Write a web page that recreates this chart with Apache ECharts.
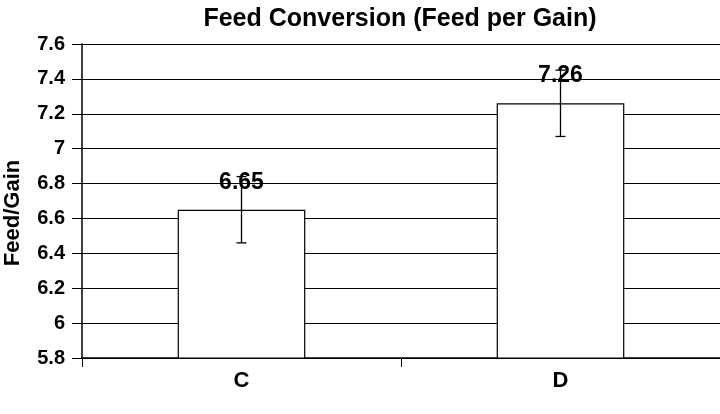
<!DOCTYPE html>
<html>
<head>
<meta charset="utf-8">
<script src="https://cdn.jsdelivr.net/npm/echarts@6/dist/echarts.min.js"></script>
<style>html,body{margin:0;padding:0;background:#fff}#c{width:720px;height:414px}</style>
</head>
<body>
<div id="c"></div>
<script>
var categories = ['C', 'D'];
var values = [6.65, 7.26];
var errLow = [6.46, 7.07];
var errHigh = [6.84, 7.45];
var yTicks = [5.8, 6, 6.2, 6.4, 6.6, 6.8, 7, 7.2, 7.4, 7.6];

var chart = echarts.init(document.getElementById('c'));
var font = 'Liberation Sans, Arial, sans-serif';
chart.setOption({
  animation: false,
  backgroundColor: '#fff',
  title: {
    text: 'Feed Conversion (Feed per Gain)',
    left: 395, top: 2, textAlign: 'center',
    textStyle: {fontFamily: font, fontWeight: 'bold', fontSize: 25, color: '#000'}
  },
  grid: {left: 82, right: 0, top: 44, bottom: 56, containLabel: false, outerBoundsMode: 'none'},
  xAxis: {
    type: 'category', data: categories, boundaryGap: true,
    axisLine: {lineStyle: {color: '#000', width: 1.5}},
    axisTick: {show: true, length: 9, lineStyle: {color: '#000'}, alignWithLabel: false},
    axisLabel: {fontFamily: font, fontWeight: 'bold', fontSize: 22, color: '#000', margin: 12}
  },
  yAxis: {
    type: 'value', min: 5.8, max: 7.6, interval: 0.2,
    name: 'Feed/Gain', nameLocation: 'middle', nameGap: 58,
    nameTextStyle: {fontFamily: font, fontWeight: 'bold', fontSize: 22, color: '#000', padding: [0, 24, 0, 0]},
    axisLine: {show: true, lineStyle: {color: '#000', width: 1.5}},
    axisTick: {show: true, length: 10, lineStyle: {color: '#000'}},
    axisLabel: {fontFamily: font, fontWeight: 'bold', fontSize: 20, color: '#000', margin: 17,
      formatter: function (v) { var r = Math.round(v * 10) / 10; return yTicks.indexOf(r) >= 0 ? String(r) : ''; }},
    splitLine: {show: true, lineStyle: {color: '#000', width: 1.2}}
  },
  series: [
    {
      type: 'bar', data: values, barWidth: '40%',
      itemStyle: {color: '#fff', borderColor: '#000', borderWidth: 1.2},
      label: {show: true, position: 'top', distance: 16, fontFamily: font, fontWeight: 'bold', fontSize: 23, color: '#000',
        formatter: function (p) { return p.value.toFixed(2); }},
      z: 2
    },
    {
      type: 'custom', z: 3,
      data: categories.map(function (c, i) { return [i, errLow[i], errHigh[i]]; }),
      renderItem: function (params, api) {
        var lo = api.coord([api.value(0), api.value(1)]);
        var hi = api.coord([api.value(0), api.value(2)]);
        var w = 5;
        var st = {stroke: '#000', lineWidth: 1.3};
        return {type: 'group', children: [
          {type: 'line', shape: {x1: lo[0], y1: lo[1], x2: hi[0], y2: hi[1]}, style: st},
          {type: 'line', shape: {x1: lo[0] - w, y1: lo[1], x2: lo[0] + w, y2: lo[1]}, style: st},
          {type: 'line', shape: {x1: hi[0] - w, y1: hi[1], x2: hi[0] + w, y2: hi[1]}, style: st}
        ]};
      }
    }
  ]
});
</script>
</body>
</html>
